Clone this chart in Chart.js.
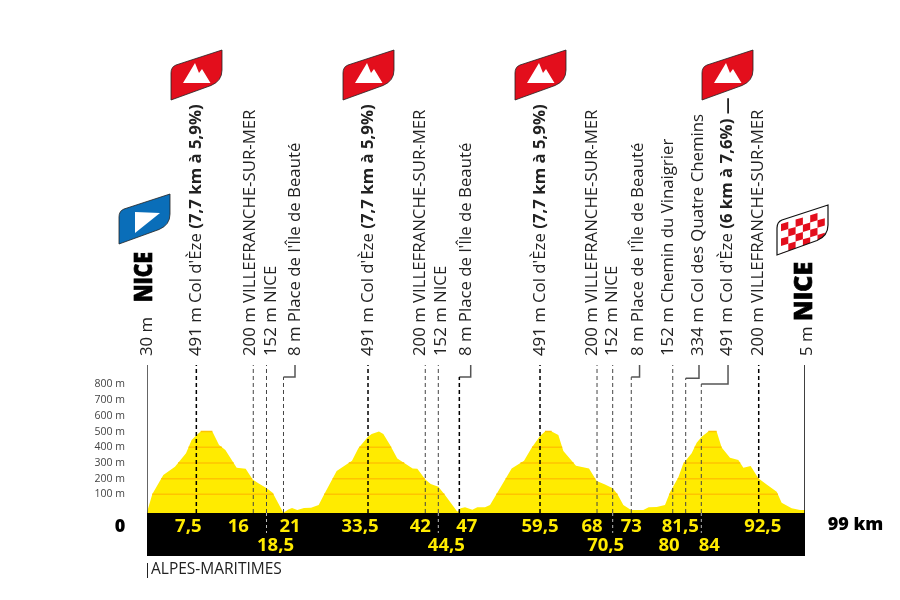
<!DOCTYPE html>
<html lang="fr">
<head>
<meta charset="UTF-8">
<title>Profil Nice - Nice</title>
<script src="https://cdn.jsdelivr.net/npm/chart.js"></script>
<style>
  html, body { margin: 0; padding: 0; background: #fff; }
  canvas { display: block; }
</style>
</head>
<body>
<canvas id="profile" width="900" height="600"></canvas>
<script>
// Elevation profile
const profileKm = [0, 0.1, 0.81, 2.47, 4.23, 5.9, 6.75, 7.51, 8.12, 9.88, 10.89, 11.85, 13.56, 14.92, 15.98, 16.84, 18.1, 19, 20.62, 21.37, 21.93, 22.73, 23.74, 24.8, 25.96, 26.82, 28.68, 31, 31.96, 33.42, 33.97, 35.08, 35.74, 36.75, 37.85, 40.17, 40.88, 42.09, 42.9, 44.06, 45.06, 46.93, 47.43, 48.09, 49.2, 49.95, 51.11, 51.87, 52.77, 55.14, 57.01, 58.17, 59.43, 60.18, 61.19, 62.2, 62.96, 64.87, 66.84, 68, 69.26, 70.42, 71.12, 72.03, 73.19, 75.05, 75.86, 77.07, 78.33, 79.09, 80.35, 81.1, 82.36, 83.12, 83.88, 84.88, 86.14, 86.9, 88.16, 89.42, 90.18, 91.28, 92.44, 93.7, 95.22, 95.97, 97.48, 98.75, 99.5];
const profileM = [-10, 0, 102, 223, 276, 361, 446, 478, 500, 500, 414, 382, 270, 263, 195, 170, 138, 110, -17, 4, 13, 0, 13, 15, 32, 102, 248, 314, 393, 467, 484, 500, 484, 414, 329, 265, 263, 195, 166, 149, 96, -11, 11, 17, 2, 17, 17, 32, 96, 265, 314, 397, 471, 500, 500, 478, 376, 282, 265, 185, 163, 138, 102, 32, 0, 0, 17, 19, 32, 113, 208, 297, 361, 429, 467, 500, 500, 399, 333, 318, 270, 280, 202, 163, 117, 47, 11, 0, 0];

const yTicks = [100, 200, 300, 400, 500, 600, 700, 800];
const bandLevels = [100, 200, 300, 400, 500];

// Passages along the route
const markKm = [7.46, 16.07, 18.07, 20.64, 33.42, 42.08, 44.05, 47.23, 59.43, 68.05, 70.42, 73.23, 79.5, 81.46, 83.82, 92.5];
const kmLabels = ['7,5', '16', '18,5', '21', '33,5', '42', '44,5', '47', '59,5', '68', '70,5', '73', '80', '81,5', '84', '92,5'];
const passNames = ["491 m Col d'Èze ", '200 m VILLEFRANCHE-SUR-MER', '152 m NICE', "8 m Place de l'Île de Beauté",
  "491 m Col d'Èze ", '200 m VILLEFRANCHE-SUR-MER', '152 m NICE', "8 m Place de l'Île de Beauté",
  "491 m Col d'Èze ", '200 m VILLEFRANCHE-SUR-MER', '152 m NICE', "8 m Place de l'Île de Beauté",
  '152 m Chemin du Vinaigrier', '334 m Col des Quatre Chemins', "491 m Col d'Èze ", '200 m VILLEFRANCHE-SUR-MER'];
const passClimbs = ['(7,7 km à 5,9%)', '', '', '',
  '(7,7 km à 5,9%)', '', '', '',
  '(7,7 km à 5,9%)', '', '', '',
  '', '', '(6 km à 7,6%) —', ''];

// Leader lines that bend on their way up to the text
const elbowIndex = [3, 7, 11, 13, 14];
const elbowKm = [22.38, 48.95, 74.48, 83.47, 87.86];
const elbowM = [847, 847, 847, 840, 803];

// Layout of the drawing, not data
const TOP_M = 924, BOTTOM_M = -293, BASE_M = -19, BOX_TICK_M = -146, FINISH_KM = 99.5;
const heavyMarks = [0, 4, 7, 8, 15];
const boxTicks = [2, 6, 10, 14];
const kmRow = [0, 0, 1, 0, 0, 0, 1, 0, 0, 0, 1, 0, 1, 0, 1, 0];
const kmNudge = [-8, -15, 9, 6.5, -8, -5, 8, 7.5, 0, -5, -7, 0, -3.7, -5.4, 8, 4];
const nameNudge = [0, -2.6, 4.5, 11.5, 0, -5, 3, 7, 0, -5, 0, 7, -4.7, 12.3, 26.4, -0.7];
const YELLOW = '#FFEB00', ORANGE = '#FFC400';
const FONT = '"Open Sans", sans-serif';

function line(points, color, width, dash) {
  return { data: points, borderColor: color, borderWidth: width, borderDash: dash || [], pointRadius: 0, tension: 0, fill: false, order: 1 };
}

// Horizontal height bands, only where the profile is above the level
function bandSegments(level) {
  const pts = [];
  for (let i = 0; i < profileM.length - 1; i++) {
    const a = profileM[i], b = profileM[i + 1];
    const cross = profileKm[i] + (level - a) / (b - a) * (profileKm[i + 1] - profileKm[i]);
    if (a < level && b >= level) pts.push({ x: cross, y: level });
    if (a >= level && b < level) {
      pts.push({ x: cross, y: level });
      pts.push({ x: cross, y: null });
    }
  }
  return pts;
}

const datasets = [];

// black strip under the profile
datasets.push({
  data: [{ x: 0, y: BASE_M }, { x: FINISH_KM, y: BASE_M }],
  borderWidth: 0, pointRadius: 0, backgroundColor: '#000', fill: { target: { value: BOTTOM_M } }, order: 5
});

// yellow profile
datasets.push({
  data: profileKm.map((km, i) => ({ x: km, y: profileM[i] })),
  borderWidth: 0, pointRadius: 0, tension: 0, backgroundColor: YELLOW, fill: { target: { value: BASE_M } }, order: 4
});

bandLevels.forEach(level => {
  const ds = line(bandSegments(level), ORANGE, 1.5);
  ds.order = 3;
  datasets.push(ds);
});

// start and finish verticals
datasets.push(line([{ x: 0, y: TOP_M }, { x: 0, y: BASE_M }], '#333', 1.5));
datasets.push(line([{ x: FINISH_KM, y: TOP_M }, { x: FINISH_KM, y: BASE_M }], '#000', 1.5));

// passage markers
markKm.forEach((km, i) => {
  const heavy = heavyMarks.includes(i);
  const e = elbowIndex.indexOf(i);
  const top = e >= 0 ? elbowM[e] : TOP_M;
  datasets.push(line([{ x: km, y: BASE_M }, { x: km, y: top }], heavy ? '#000' : '#444', heavy ? 1.5 : 1, [4, 3]));
  if (e >= 0) {
    datasets.push(line([{ x: km, y: top }, { x: elbowKm[e], y: top }, { x: elbowKm[e], y: TOP_M }], '#555', 1.5));
  }
  if (boxTicks.includes(i)) {
    datasets.push(line([{ x: km, y: BASE_M }, { x: km, y: BOX_TICK_M }], '#bbb', 1, [3, 3]));
  }
});

function rotatedText(ctx, text, x, y, font, color, maxLen, outline) {
  ctx.save();
  ctx.translate(x, y);
  ctx.rotate(-Math.PI / 2);
  ctx.font = font;
  ctx.fillStyle = color;
  ctx.textAlign = 'left';
  ctx.textBaseline = 'middle';
  if (maxLen) ctx.fillText(text, 0, 0, maxLen);
  else ctx.fillText(text, 0, 0);
  if (outline) {
    ctx.strokeStyle = color;
    ctx.lineWidth = outline;
    ctx.strokeText(text, 0, 0, maxLen);
  }
  const w = ctx.measureText(text).width;
  ctx.restore();
  return w;
}

// slanted flag shape, x/y is the top left of its box (51 x 50)
function flagPath(ctx, x, y) {
  ctx.beginPath();
  ctx.moveTo(x, y + 50);
  ctx.lineTo(x, y + 23);
  ctx.quadraticCurveTo(x, y + 17, x + 5, y + 15);
  ctx.lineTo(x + 51, y);
  ctx.lineTo(x + 51, y + 20);
  ctx.quadraticCurveTo(x + 51, y + 31, x + 40, y + 35.5);
  ctx.closePath();
}

function climbFlag(ctx, x, y) {
  flagPath(ctx, x, y);
  ctx.fillStyle = '#E30E1C';
  ctx.fill();
  ctx.strokeStyle = '#222';
  ctx.lineWidth = 0.8;
  ctx.stroke();
  ctx.fillStyle = '#fff';
  ctx.beginPath();
  ctx.moveTo(x + 12, y + 33);
  ctx.lineTo(x + 24, y + 13);
  ctx.lineTo(x + 28, y + 23);
  ctx.lineTo(x + 31, y + 19);
  ctx.lineTo(x + 39.5, y + 33);
  ctx.closePath();
  ctx.fill();
}

function startFlag(ctx, x, y) {
  flagPath(ctx, x, y);
  ctx.fillStyle = '#0A6EB9';
  ctx.fill();
  ctx.strokeStyle = '#222';
  ctx.lineWidth = 0.8;
  ctx.stroke();
  ctx.fillStyle = '#fff';
  ctx.beginPath();
  ctx.moveTo(x + 16, y + 18);
  ctx.lineTo(x + 41, y + 19);
  ctx.lineTo(x + 16, y + 39);
  ctx.closePath();
  ctx.fill();
}

function finishFlag(ctx, x, y) {
  flagPath(ctx, x, y);
  ctx.fillStyle = '#fff';
  ctx.fill();
  ctx.save();
  flagPath(ctx, x, y);
  ctx.clip();
  ctx.fillStyle = '#E30E1C';
  // checks follow the slant of the flag
  const cell = 7.3;
  for (let i = 0; i < 6; i++) {
    for (let j = 0; j < 6; j++) {
      if ((i + j) % 2) continue;
      const cx = x + 4 + i * cell;
      const cy = y + 19 - i * cell * 0.3 + j * cell;
      ctx.beginPath();
      ctx.moveTo(cx, cy);
      ctx.lineTo(cx + cell, cy - cell * 0.3);
      ctx.lineTo(cx + cell, cy - cell * 0.3 + cell);
      ctx.lineTo(cx, cy + cell);
      ctx.closePath();
      ctx.fill();
    }
  }
  ctx.restore();
  flagPath(ctx, x, y);
  ctx.strokeStyle = '#111';
  ctx.lineWidth = 1.2;
  ctx.stroke();
}

const textPlugin = {
  id: 'textPlugin',
  afterDraw(chart) {
    const ctx = chart.ctx;
    const xs = chart.scales.x;
    const textColor = '#222';
    const reg = '400 16.8px ' + FONT, bold = '700 16.8px ' + FONT;

    // passage names, written upward
    markKm.forEach((km, i) => {
      const x = xs.getPixelForValue(km) + nameNudge[i];
      const w = rotatedText(ctx, passNames[i], x, 356, reg, textColor);
      if (passClimbs[i]) rotatedText(ctx, passClimbs[i], x, 356 - w, bold, textColor);
    });

    // start and finish
    rotatedText(ctx, '30 m', 147, 356, reg, textColor);
    rotatedText(ctx, 'NICE', 144.5, 302, '800 25px ' + FONT, '#000', 50, 0.7);
    rotatedText(ctx, '5 m', 807, 356, reg, textColor);
    rotatedText(ctx, 'NICE', 805, 321, '800 25px ' + FONT, '#000', 59, 0.7);

    // km labels in the black strip
    ctx.font = '700 18.5px ' + FONT;
    ctx.fillStyle = YELLOW;
    ctx.textAlign = 'center';
    ctx.textBaseline = 'middle';
    markKm.forEach((km, i) => {
      ctx.fillText(kmLabels[i], xs.getPixelForValue(km) + kmNudge[i], kmRow[i] ? 545.5 : 527);
    });

    ctx.fillStyle = '#000';
    ctx.font = '800 18px ' + FONT;
    ctx.fillText('0', 120, 527);
    ctx.fillText('99 km', 855.5, 525);

    // department line
    ctx.strokeStyle = '#222';
    ctx.lineWidth = 1;
    ctx.beginPath();
    ctx.moveTo(147.5, 563);
    ctx.lineTo(147.5, 578);
    ctx.stroke();
    ctx.font = '400 15.5px ' + FONT;
    ctx.fillStyle = textColor;
    ctx.textAlign = 'left';
    ctx.fillText('ALPES-MARITIMES', 151, 570);

    startFlag(ctx, 119, 194);
    [171, 343, 515, 702].forEach(x => climbFlag(ctx, x, 50));
    finishFlag(ctx, 777, 205);
  }
};

new Chart(document.getElementById('profile').getContext('2d'), {
  type: 'line',
  data: { datasets: datasets },
  plugins: [textPlugin],
  options: {
    responsive: false,
    animation: false,
    devicePixelRatio: 1,
    layout: { padding: { left: 0, top: 365, right: 95, bottom: 44 } },
    plugins: { legend: { display: false }, tooltip: { enabled: false } },
    scales: {
      x: { type: 'linear', min: 0, max: FINISH_KM, display: false },
      y: {
        type: 'linear',
        min: BOTTOM_M,
        max: TOP_M,
        border: { display: false },
        grid: { display: false, drawTicks: false },
        afterBuildTicks: axis => { axis.ticks = yTicks.map(v => ({ value: v })); },
        afterFit: axis => { axis.width = 147; },
        ticks: {
          autoSkip: false,
          padding: 22,
          color: '#444',
          font: { family: 'Open Sans', size: 10.5 },
          callback: v => v + ' m'
        }
      }
    }
  }
});
</script>
</body>
</html>
